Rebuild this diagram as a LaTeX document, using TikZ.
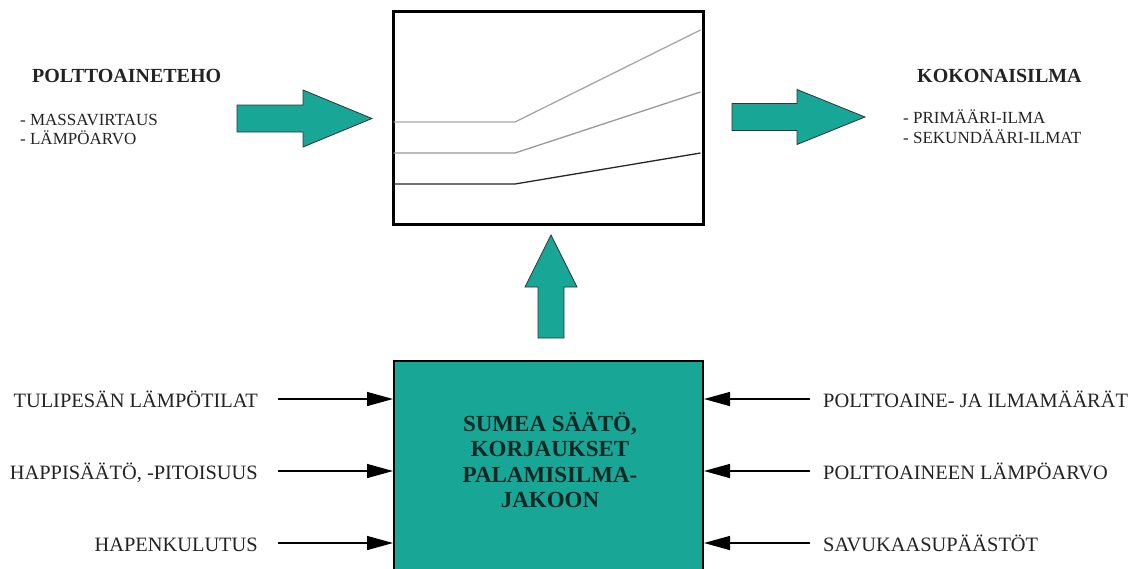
\documentclass[tikz,border=0pt]{standalone}
\usepackage{fontspec}
\setmainfont{Liberation Serif}
\usetikzlibrary{arrows.meta}
\definecolor{tealfill}{RGB}{24,166,150}
\definecolor{ink}{RGB}{35,35,35}
\definecolor{boxink}{RGB}{12,40,36}
\begin{document}
\begin{tikzpicture}[x=1pt,y=-1pt,
  lbl/.style={font=\fontsize{20.4}{24}\selectfont, text=ink, inner sep=0pt},
  ttl/.style={font=\bfseries\fontsize{20}{24}\selectfont, text=ink, inner sep=0pt},
  item/.style={font=\fontsize{17}{19}\selectfont, text=ink, inner sep=0pt},
  fat/.style={fill=tealfill, draw=black!80, line width=0.8pt, line join=miter},
  feed/.style={-{Triangle[length=26pt,width=14pt]}, line width=1.4pt, draw=black}
]
\clip (0,0) rectangle (1135,568);
\fill[white] (0,0) rectangle (1135,568);

% characteristic chart
\node[draw, line width=3pt, minimum width=310, minimum height=213,
      anchor=north west, inner sep=0pt] (chart) at (392,10) {};
\draw[line width=1.3pt, black!35] (393.5,122) -- (515,122) -- (700.5,30);
\draw[line width=1.3pt, black!40] (393.5,153) -- (515,153) -- (700.5,92);
\draw[line width=1.3pt, black!85] (393.5,184) -- (515,184) -- (700.5,153);

% fuel power input
\node[ttl, anchor=base west] (fuel) at (32,82) {POLTTOAINETEHO};
\node[item, anchor=base west] (fuel1) at (20,125.6) {- MASSAVIRTAUS};
\node[item, anchor=base west] (fuel2) at (20,144.6) {- LÄMPÖARVO};
\draw[fat] (237,105) -- (303,105) -- (303,90) -- (372,118.5) -- (303,147)
  -- (303,132) -- (237,132) -- cycle;

% total air output
\node[ttl, anchor=base west] (air) at (917,82) {KOKONAISILMA};
\node[item, anchor=base west] (air1) at (903,123.6) {- PRIMÄÄRI-ILMA};
\node[item, anchor=base west] (air2) at (903,143.6) {- SEKUNDÄÄRI-ILMAT};
\draw[fat] (732,103.5) -- (797,103.5) -- (797,89.5) -- (865,117) -- (797,144.5)
  -- (797,130.5) -- (732,130.5) -- cycle;

% fuzzy controller
\node[draw=black, line width=2pt, fill=tealfill, minimum width=309,
      minimum height=230, anchor=north west, inner sep=0pt] (ctrl) at (393,360) {};
\node[font=\bfseries\fontsize{23}{25.5}\selectfont, text=boxink, align=center]
  (ctrltext) at (550,460) {SUMEA SÄÄTÖ,\\KORJAUKSET\\PALAMISILMA-\\JAKOON};
\draw[fat] (538,338) -- (538,287) -- (525,287) -- (551,235) -- (577,287)
  -- (564,287) -- (564,338) -- cycle;

% measured inputs, left side
\node[lbl, anchor=base east] (in1) at (258,407.8) {TULIPESÄN LÄMPÖTILAT};
\node[lbl, anchor=base east] (in2) at (258,479.8) {HAPPISÄÄTÖ, -PITOISUUS};
\node[lbl, anchor=base east] (in3) at (258,551.8) {HAPENKULUTUS};
\coordinate (a1) at (278,399);
\coordinate (a2) at (278,471);
\coordinate (a3) at (278,543);
\draw[feed] (a1) -- (a1 -| ctrl.west);
\draw[feed] (a2) -- (a2 -| ctrl.west);
\draw[feed] (a3) -- (a3 -| ctrl.west);

% measured inputs, right side
\node[lbl, anchor=base west] (in4) at (823,407.8) {POLTTOAINE- JA ILMAMÄÄRÄT};
\node[lbl, anchor=base west] (in5) at (823,479.8) {POLTTOAINEEN LÄMPÖARVO};
\node[lbl, anchor=base west] (in6) at (823,551.8) {SAVUKAASUPÄÄSTÖT};
\coordinate (b1) at (810,399);
\coordinate (b2) at (810,471);
\coordinate (b3) at (810,543);
\draw[feed] (b1) -- (b1 -| ctrl.east);
\draw[feed] (b2) -- (b2 -| ctrl.east);
\draw[feed] (b3) -- (b3 -| ctrl.east);
\end{tikzpicture}
\end{document}
